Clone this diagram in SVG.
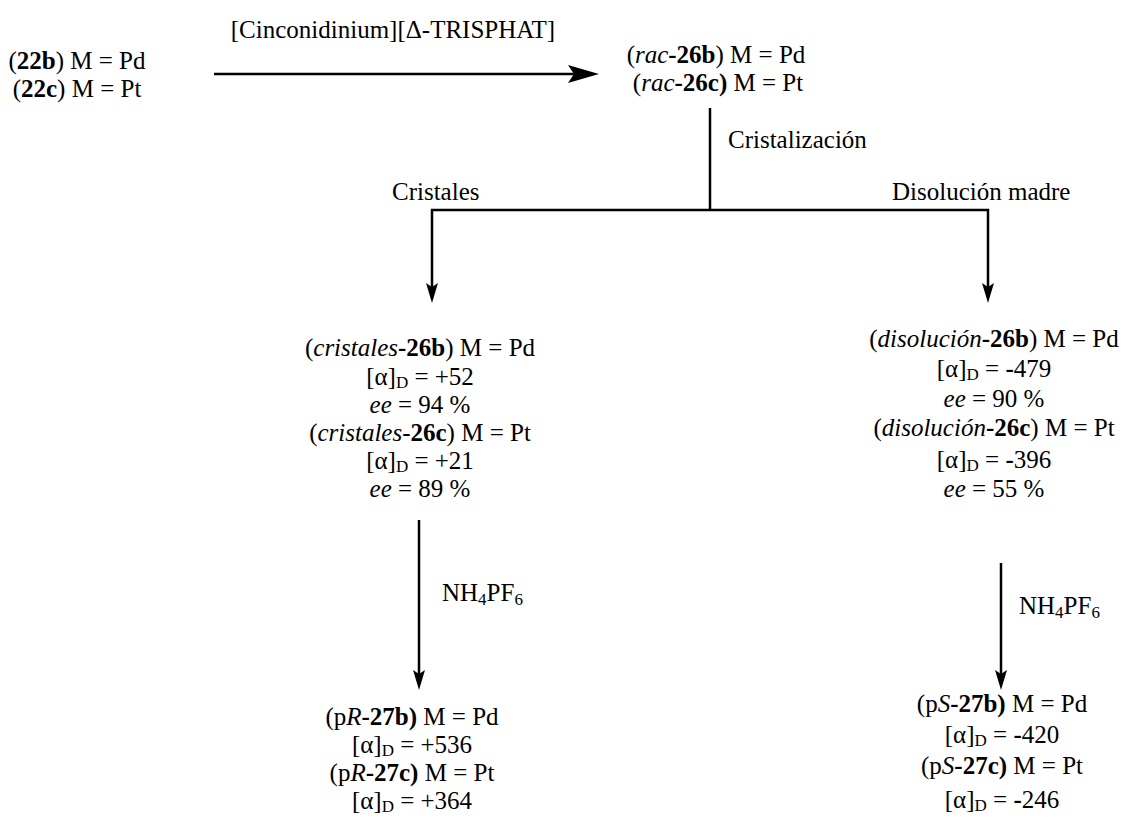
<svg xmlns="http://www.w3.org/2000/svg" width="1122" height="838" viewBox="0 0 1122 838" font-family="'Liberation Serif', Tinos, 'DejaVu Serif', serif">
<style>
text{font-family:"Liberation Serif",Tinos,"DejaVu Serif",serif;font-size:25px;fill:#000}
.m{text-anchor:middle}
.i{font-style:italic}
.b{font-weight:bold}
.s{font-size:17px}
.ln{stroke:#000;stroke-width:2.5;fill:none}
.ah{fill:#000;stroke:none}
</style>
<rect width="1122" height="838" fill="#fff"/>
<g id="connectors">
<line class="ln" x1="214" y1="74" x2="578" y2="74" stroke-width="3.5"/>
<polygon class="ah" points="599,74 568,65 574,74 568,83"/>
<polyline class="ln" points="710,108 710,210"/>
<polyline class="ln" points="432,295 432,210 988,210 988,295"/>
<polygon class="ah" points="432,303 426,283 432,287 438,283"/>
<polygon class="ah" points="988,303 982,283 988,287 994,283"/>
<line class="ln" x1="419" y1="520" x2="419" y2="680"/>
<polygon class="ah" points="419,690 413,670 419,674 425,670"/>
<line class="ln" x1="1001" y1="563" x2="1001" y2="680"/>
<polygon class="ah" points="1001,690 995,670 1001,674 1007,670"/>
</g>
<g id="reagent">
<text class="m" x="393" y="38">[Cinconidinium][Δ-TRISPHAT]</text>
</g>
<g id="start">
<text class="m" x="77" y="69">(<tspan class="b">22b</tspan>) M = Pd</text>
<text class="m" x="77" y="97">(<tspan class="b">22c</tspan>) M = Pt</text>
</g>
<g id="racemate">
<text class="m" x="716" y="63">(<tspan class="i">rac</tspan><tspan class="b">-26b</tspan>) M = Pd</text>
<text class="m" x="718" y="91">(<tspan class="i">rac</tspan><tspan class="b">-26c)</tspan> M = Pt</text>
</g>
<g id="labels">
<text x="728" y="148">Cristalización</text>
<text x="392" y="200">Cristales</text>
<text x="892" y="200">Disolución madre</text>
</g>
<g id="cristales">
<text class="m" x="420" y="356">(<tspan class="i">cristales</tspan><tspan class="b">-26b</tspan>) M = Pd</text>
<text class="m" x="420" y="385">[α]<tspan class="s" dy="3">D</tspan><tspan dy="-3"> = +52</tspan></text>
<text class="m" x="420" y="413"><tspan class="i">ee</tspan> = 94 %</text>
<text class="m" x="420" y="441">(<tspan class="i">cristales</tspan>-<tspan class="b">26c</tspan>) M = Pt</text>
<text class="m" x="420" y="469">[α]<tspan class="s" dy="3">D</tspan><tspan dy="-3"> = +21</tspan></text>
<text class="m" x="420" y="497"><tspan class="i">ee</tspan> = 89 %</text>
</g>
<g id="disolucion">
<text class="m" x="994" y="347">(<tspan class="i">disolución</tspan><tspan class="b">-26b</tspan>) M = Pd</text>
<text class="m" x="994" y="377">[α]<tspan class="s" dy="3">D</tspan><tspan dy="-3"> = </tspan><tspan class="b">-</tspan>479</text>
<text class="m" x="994" y="407"><tspan class="i">ee</tspan> = 90 %</text>
<text class="m" x="994" y="436">(<tspan class="i">disolución</tspan><tspan class="b">-26c</tspan>) M = Pt</text>
<text class="m" x="994" y="468">[α]<tspan class="s" dy="3">D</tspan><tspan dy="-3"> = </tspan><tspan class="b">-</tspan>396</text>
<text class="m" x="994" y="497"><tspan class="i">ee</tspan> = 55 %</text>
</g>
<g id="reagent2">
<text x="442" y="601">NH<tspan class="s" dy="4">4</tspan><tspan dy="-4">PF</tspan><tspan class="s" dy="4">6</tspan></text>
<text x="1019" y="614">NH<tspan class="s" dy="4">4</tspan><tspan dy="-4">PF</tspan><tspan class="s" dy="4">6</tspan></text>
</g>
<g id="pR">
<text class="m" x="412" y="725">(p<tspan class="i">R</tspan><tspan class="b">-27b)</tspan> M = Pd</text>
<text class="m" x="412" y="753">[α]<tspan class="s" dy="3">D</tspan><tspan dy="-3"> = +536</tspan></text>
<text class="m" x="412" y="781">(p<tspan class="i">R</tspan><tspan class="b">-27c)</tspan> M = Pt</text>
<text class="m" x="412" y="809">[α]<tspan class="s" dy="3">D</tspan><tspan dy="-3"> = +364</tspan></text>
</g>
<g id="pS">
<text class="m" x="1002" y="712">(p<tspan class="i">S</tspan><tspan class="b">-27b)</tspan> M = Pd</text>
<text class="m" x="1002" y="743">[α]<tspan class="s" dy="3">D</tspan><tspan dy="-3"> = </tspan><tspan class="b">-</tspan>420</text>
<text class="m" x="1002" y="774">(p<tspan class="i">S</tspan><tspan class="b">-27c)</tspan> M = Pt</text>
<text class="m" x="1002" y="808">[α]<tspan class="s" dy="3">D</tspan><tspan dy="-3"> = </tspan><tspan class="b">-</tspan>246</text>
</g>
</svg>
